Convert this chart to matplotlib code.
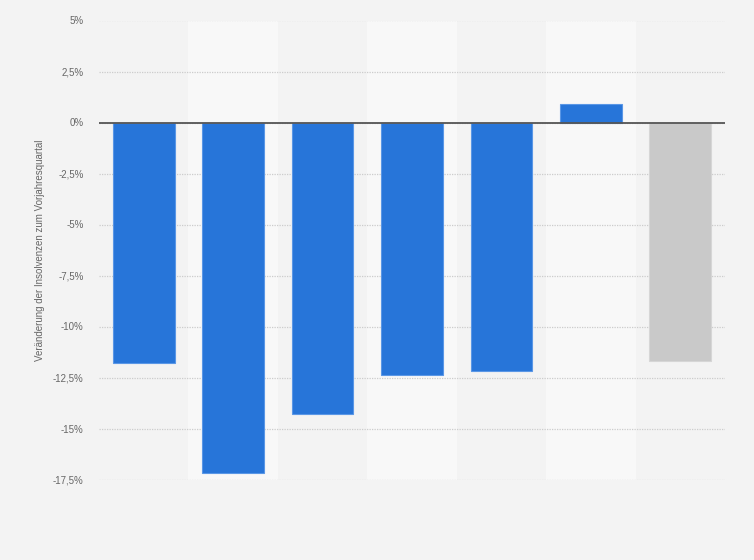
import matplotlib
matplotlib.use("Agg")
import matplotlib.pyplot as plt
from matplotlib.ticker import FuncFormatter

# Quarterly change of insolvencies vs. same quarter of previous year
quarters = ["Q1", "Q2", "Q3", "Q4", "Q5", "Q6", "Q7"]
changes = [-11.8, -17.2, -14.3, -12.4, -12.2, 0.9, -11.7]
bar_colors = ["#2775d9"] * 6 + ["#c9c9c9"]
edge_colors = ["#5a97e6"] * 6 + ["#d6d6d6"]
y_ticks = [5, 2.5, 0, -2.5, -5, -7.5, -10, -12.5, -15, -17.5]

plt.rcParams["font.family"] = ["Liberation Sans", "DejaVu Sans"]

fig = plt.figure(figsize=(7.54, 5.6), dpi=100)
fig.patch.set_facecolor("#f3f3f3")
ax = fig.add_axes([99 / 754, 1 - 479.5 / 560, 626 / 754, 459 / 560])
ax.set_facecolor("#f3f3f3")

x = list(range(len(quarters)))

# Alternating column bands
for i in x:
    if i % 2 == 1:
        ax.axvspan(i - 0.5, i + 0.5, color="#f8f8f8", zorder=0, lw=0)

ax.bar(x, changes, width=0.69, color=bar_colors, edgecolor=edge_colors,
       linewidth=0.8, zorder=3)

ax.axhline(0, color="#555555", linewidth=1.3, zorder=4)

ax.set_xlim(-0.5, len(quarters) - 0.5)
ax.set_ylim(-17.5, 5)
ax.set_yticks(y_ticks)
ax.yaxis.set_major_formatter(
    FuncFormatter(lambda v, _: f"{v:g}".replace(".", ",") + "%"))
ax.set_xticks(x)
ax.set_xticklabels([""] * len(quarters))
ax.tick_params(axis="both", length=0)
ax.tick_params(axis="y", labelsize=7, labelcolor="#666666", pad=11)

ax.grid(axis="y", color="#cccccc", linestyle=(0, (1, 1)), linewidth=0.9,
        zorder=1)
for side in ax.spines.values():
    side.set_visible(False)

ax.set_ylabel("Veränderung der Insolvenzen zum Vorjahresquartal",
              fontsize=7, color="#666666", labelpad=6)

fig.savefig("out.png", dpi=100, facecolor=fig.get_facecolor())
